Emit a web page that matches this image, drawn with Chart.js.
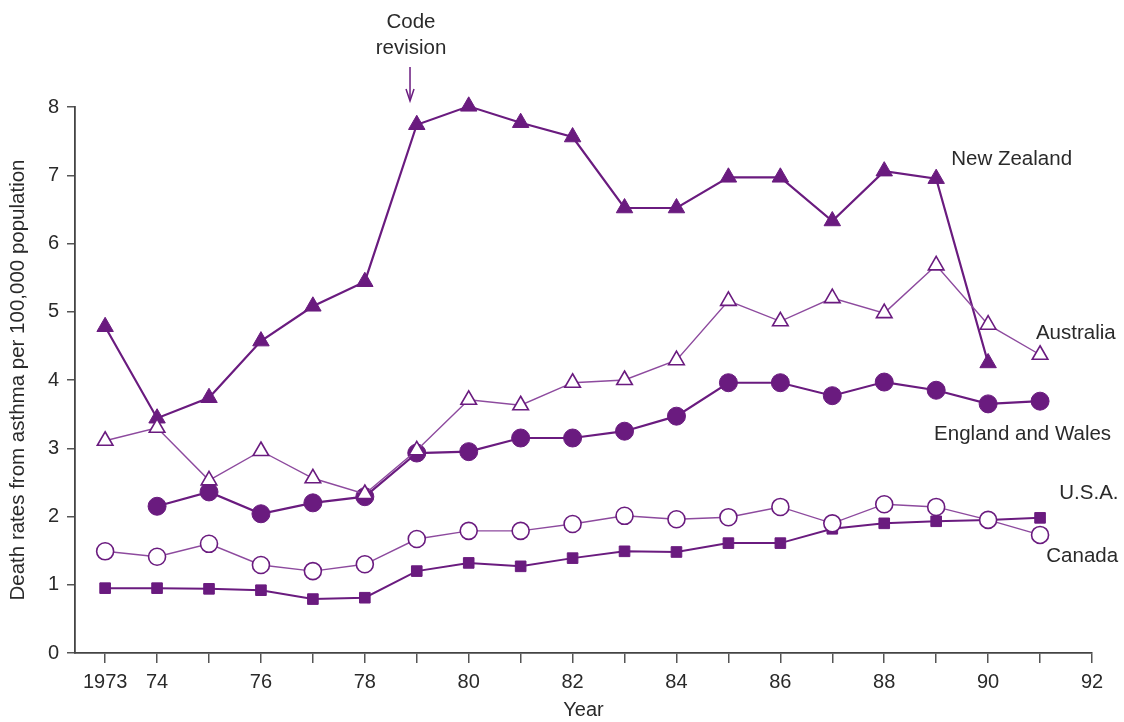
<!DOCTYPE html>
<html>
<head>
<meta charset="utf-8">
<script src="https://cdn.jsdelivr.net/npm/chart.js@4/dist/chart.umd.min.js"></script>
<style>
  html, body { margin: 0; padding: 0; background: #fff; }
  #wrap { width: 1124px; height: 722px; position: relative; }
</style>
</head>
<body>
<div id="wrap"><canvas id="c" width="1124" height="722"></canvas></div>
<script>
// Asthma death rates per 100,000 population, 1973-1991
const years = [1973, 1974, 1975, 1976, 1977, 1978, 1979, 1980, 1981, 1982, 1983, 1984, 1985, 1986, 1987, 1988, 1989, 1990, 1991];
const newZealand = [4.78, 3.44, 3.74, 4.57, 5.08, 5.44, 7.74, 8.01, 7.77, 7.56, 6.52, 6.52, 6.97, 6.97, 6.33, 7.06, 6.95, 4.25, null];
const australia  = [3.11, 3.30, 2.53, 2.96, 2.56, 2.33, 2.97, 3.71, 3.63, 3.96, 4.00, 4.29, 5.16, 4.86, 5.20, 4.98, 5.68, 4.81, 4.37];
const englandWales = [null, 2.15, 2.36, 2.04, 2.20, 2.29, 2.93, 2.95, 3.15, 3.15, 3.25, 3.47, 3.96, 3.96, 3.77, 3.97, 3.85, 3.65, 3.69];
const canada = [1.49, 1.41, 1.60, 1.29, 1.20, 1.30, 1.67, 1.79, 1.79, 1.89, 2.01, 1.96, 1.99, 2.14, 1.90, 2.18, 2.14, 1.95, 1.73];
const usa    = [0.95, 0.95, 0.94, 0.92, 0.79, 0.81, 1.20, 1.32, 1.27, 1.39, 1.49, 1.48, 1.61, 1.61, 1.82, 1.90, 1.93, 1.95, 1.98];

// x-axis tick marks every year, labelled sparsely
const xTickYears = [1973, 1974, 1975, 1976, 1977, 1978, 1979, 1980, 1981, 1982, 1983, 1984, 1985, 1986, 1987, 1988, 1989, 1990, 1991, 1992];
const xTickLabels = ['1973', '74', '', '76', '', '78', '', '80', '', '82', '', '84', '', '86', '', '88', '', '90', '', '92'];
const yTicks = [0, 1, 2, 3, 4, 5, 6, 7, 8];

// series name labels placed in data coordinates (year, rate)
const seriesLabels = [
  { text: 'New Zealand',       year: 1989.29, rate: 7.24 },
  { text: 'Australia',         year: 1990.92, rate: 4.69 },
  { text: 'England and Wales', year: 1988.96, rate: 3.21 },
  { text: 'U.S.A.',            year: 1991.37, rate: 2.34 },
  { text: 'Canada',            year: 1991.12, rate: 1.42 }
];
const codeRevisionYear = 1978.87;

const DARK = '#6a1b7f';
const LIGHT = '#8d4a9e';
const FONT = '"Liberation Sans", Arial, Helvetica, sans-serif';

const pts = arr => years.map((y, i) => ({ x: y, y: arr[i] })).filter(p => p.y !== null);

const annotations = {
  id: 'annotations',
  afterDraw(chart) {
    const { ctx, scales: { x, y } } = chart;
    ctx.save();
    ctx.fillStyle = '#2a2a2a';
    ctx.font = '20.5px ' + FONT;
    ctx.textBaseline = 'middle';
    ctx.textAlign = 'left';
    seriesLabels.forEach(l => ctx.fillText(l.text, x.getPixelForValue(l.year), y.getPixelForValue(l.rate)));

    // "Code revision" note with arrow
    const cx = x.getPixelForValue(codeRevisionYear);
    ctx.textAlign = 'center';
    ctx.fillText('Code', cx + 1, 22);
    ctx.fillText('revision', cx + 1, 48);
    ctx.strokeStyle = DARK;
    ctx.lineWidth = 1.5;
    ctx.beginPath();
    ctx.moveTo(cx, 67);
    ctx.lineTo(cx, 99);
    ctx.stroke();
    ctx.beginPath();
    ctx.moveTo(cx - 4, 89);
    ctx.lineTo(cx, 101);
    ctx.lineTo(cx + 4, 89);
    ctx.stroke();
    ctx.restore();
  }
};

new Chart(document.getElementById('c'), {
  type: 'line',
  data: {
    datasets: [
      { label: 'Canada', data: pts(canada), borderColor: LIGHT, borderWidth: 1.4, clip: false,
        pointStyle: 'circle', pointRadius: 8.5, pointBackgroundColor: '#fff', pointBorderColor: DARK, pointBorderWidth: 1.6 },
      { label: 'U.S.A.', data: pts(usa), borderColor: DARK, borderWidth: 2, clip: false,
        pointStyle: 'rect', pointRadius: 7.5, pointBackgroundColor: DARK, pointBorderColor: DARK, pointBorderWidth: 1 },
      { label: 'Australia', data: pts(australia), borderColor: LIGHT, borderWidth: 1.4, clip: false,
        pointStyle: 'triangle', pointRadius: 9, pointBackgroundColor: '#fff', pointBorderColor: DARK, pointBorderWidth: 1.6 },
      { label: 'England and Wales', data: pts(englandWales), borderColor: DARK, borderWidth: 2.2, clip: false,
        pointStyle: 'circle', pointRadius: 9, pointBackgroundColor: DARK, pointBorderColor: DARK, pointBorderWidth: 1 },
      { label: 'New Zealand', data: pts(newZealand), borderColor: DARK, borderWidth: 2.2, clip: false,
        pointStyle: 'triangle', pointRadius: 9.5, pointBackgroundColor: DARK, pointBorderColor: DARK, pointBorderWidth: 1 }
    ]
  },
  options: {
    responsive: false,
    animation: false,
    events: [],
    layout: { padding: { top: 107, right: 32, left: 0, bottom: 0 } },
    plugins: { legend: { display: false }, tooltip: { enabled: false } },
    scales: {
      x: {
        type: 'linear',
        min: 1972.42,
        max: 1992,
        afterBuildTicks: s => { s.ticks = xTickYears.map(v => ({ value: v })); },
        afterFit: s => { s.height = 69; },
        ticks: {
          autoSkip: false, maxRotation: 0, padding: 7,
          color: '#2a2a2a', font: { family: FONT, size: 20 },
          callback: v => xTickLabels[xTickYears.indexOf(v)]
        },
        grid: { drawOnChartArea: false, drawTicks: true, tickLength: 10, color: '#555', lineWidth: 1.5 },
        border: { color: '#444', width: 1.8 },
        title: { display: true, text: 'Year', color: '#2a2a2a', font: { family: FONT, size: 20 }, padding: { top: 4, bottom: 0 } }
      },
      y: {
        min: 0,
        max: 8,
        afterBuildTicks: s => { s.ticks = yTicks.map(v => ({ value: v })); },
        afterFit: s => { s.width = 75; },
        ticks: { padding: 8, color: '#2a2a2a', font: { family: FONT, size: 20 } },
        grid: { drawOnChartArea: false, drawTicks: true, tickLength: 8, color: '#555', lineWidth: 1.5 },
        border: { color: '#444', width: 1.8 },
        title: { display: true, text: 'Death rates from asthma per 100,000 population', color: '#2a2a2a',
                 font: { family: FONT, size: 20.5 }, padding: { top: 6, bottom: 0 } }
      }
    }
  },
  plugins: [annotations]
});
</script>
</body>
</html>
